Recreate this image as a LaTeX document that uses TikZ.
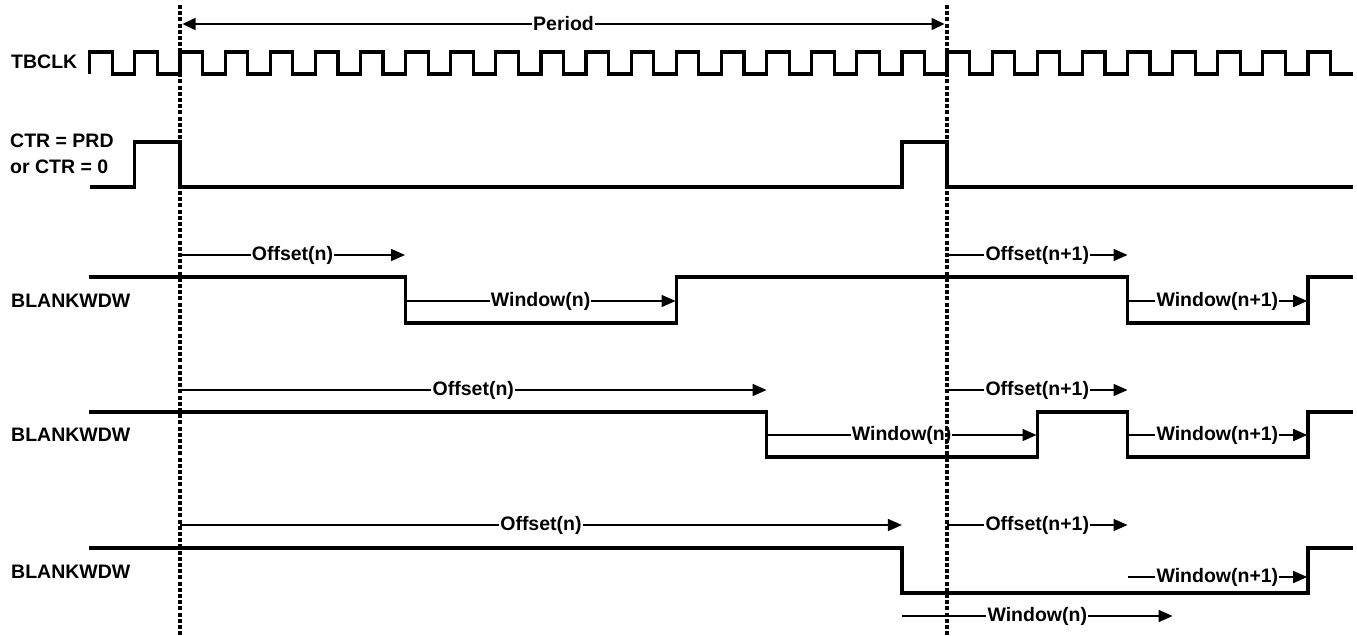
\documentclass[tikz,border=0pt]{standalone}
\usepackage{fontspec}
\setmainfont{Liberation Sans}
\usetikzlibrary{arrows.meta}
\begin{document}
\begin{tikzpicture}[x=1pt,y=-1pt,
  sig/.style={line width=3.2pt, line join=miter},
  arr/.style={line width=1.6pt, -{Triangle[length=14pt,width=12pt]}},
  period/.style={line width=1.6pt, {Triangle[length=13pt,width=12pt]}-{Triangle[length=13pt,width=12pt]}},
  tag/.style={fill=white, inner sep=1.2pt, font=\bfseries\fontsize{19.5}{23}\selectfont},
  lbl/.style={anchor=west, inner sep=0pt, align=left, font=\bfseries\fontsize{19.5}{25.5}\selectfont},
  vline/.style={line width=3.4pt, dash pattern=on 4pt off 2.2pt}]
\useasboundingbox (0,0) rectangle (1357,635);

% labels
\node[lbl] (tbclk) at (11,62) {TBCLK};
\node[lbl] (ctr) at (10,154) {CTR = PRD\\or CTR = 0};
\node[lbl] (bw1) at (11,301) {BLANKWDW};
\node[lbl] (bw2) at (11,435) {BLANKWDW};
\node[lbl] (bw3) at (11,572) {BLANKWDW};

% clock
\draw[sig] (89.76,74) foreach \k in {0,...,27} { -- ++(0,-22) -- ++(22.56,0) -- ++(0,22) -- ++(22.56,0) };

% CTR = PRD pulse
\draw[sig] (90,187) -- (134.88,187) -- (134.88,142) -- (180,142) -- (180,187)
  -- (901.9,187) -- (901.9,142) -- (947,142) -- (947,187) -- (1353,187);

% row 1
\draw[sig] (89,277) -- (405.6,277) -- (405.6,323) -- (676.3,323) -- (676.3,277)
  -- (1127.5,277) -- (1127.5,323) -- (1308,323) -- (1308,277) -- (1353,277);
% row 2
\draw[sig] (89,412) -- (766.6,412) -- (766.6,457) -- (1037.3,457) -- (1037.3,412)
  -- (1127.5,412) -- (1127.5,457) -- (1308,457) -- (1308,412) -- (1353,412);
% row 3
\draw[sig] (89,548) -- (901.9,548) -- (901.9,593) -- (1308,593) -- (1308,548) -- (1353,548);

% coordinates for arrows
\coordinate (p1) at (182.5,24);
\coordinate (p2) at (944.5,24);
\coordinate (a1s) at (180,255);   \coordinate (a1e) at (405,255);
\coordinate (w1s) at (405.6,301); \coordinate (w1e) at (675.5,301);
\coordinate (b1s) at (947,255);   \coordinate (b1e) at (1127.5,255);
\coordinate (v1s) at (1127.5,301);\coordinate (v1e) at (1307.2,301);

\coordinate (a2s) at (180,390);   \coordinate (a2e) at (766.6,390);
\coordinate (w2s) at (766.6,435); \coordinate (w2e) at (1036.5,435);
\coordinate (b2s) at (947,390);   \coordinate (b2e) at (1127.5,390);
\coordinate (v2s) at (1127.5,435);\coordinate (v2e) at (1307.2,435);

\coordinate (a3s) at (180,525);   \coordinate (a3e) at (901.9,525);
\coordinate (w3s) at (901.9,616); \coordinate (w3e) at (1172.6,616);
\coordinate (b3s) at (947,525);   \coordinate (b3e) at (1127.5,525);
\coordinate (v3s) at (1127.5,577);\coordinate (v3e) at (1307.2,577);

\draw[period] (p1) -- node[tag] (per) {Period} (p2);

\draw[arr] (a1s) -- node[tag] (o1) {Offset(n)} (a1e);
\draw[arr] (w1s) -- node[tag] (wn1) {Window(n)} (w1e);
\draw[arr] (b1s) -- node[tag] (o1b) {Offset(n+1)} (b1e);
\draw[arr] (v1s) -- node[tag] (wn1b) {Window(n+1)} (v1e);

\draw[arr] (a2s) -- node[tag] (o2) {Offset(n)} (a2e);
\draw[arr] (w2s) -- node[tag] (wn2) {Window(n)} (w2e);
\draw[arr] (b2s) -- node[tag] (o2b) {Offset(n+1)} (b2e);
\draw[arr] (v2s) -- node[tag] (wn2b) {Window(n+1)} (v2e);

\draw[arr] (a3s) -- node[tag] (o3) {Offset(n)} (a3e);
\draw[arr] (w3s) -- node[tag] (wn3) {Window(n)} (w3e);
\draw[arr] (b3s) -- node[tag] (o3b) {Offset(n+1)} (b3e);
\draw[arr] (v3s) -- node[tag] (wn3b) {Window(n+1)} (v3e);

% dashed period markers
\coordinate (d1t) at (180,5);  \coordinate (d1b) at (180,635);
\coordinate (d2t) at (947,5);  \coordinate (d2b) at (947,635);
\draw[vline] (d1t) -- (d1b);
\draw[vline] (d2t) -- (d2b);
\end{tikzpicture}
\end{document}
